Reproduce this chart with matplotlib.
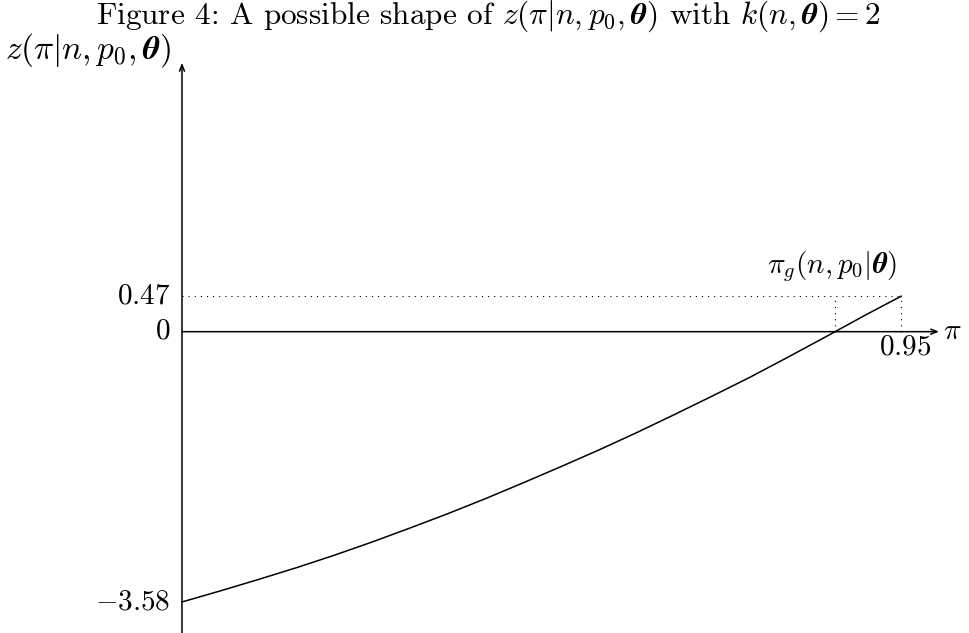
import matplotlib
matplotlib.use("Agg")
import matplotlib.pyplot as plt
import numpy as np

plt.rcParams['font.family'] = ['cmr10', 'DejaVu Serif']
plt.rcParams['mathtext.fontset'] = 'cm'
plt.rcParams['axes.unicode_minus'] = False

# values
pi_vals = [0.0, 0.05, 0.1, 0.15, 0.2, 0.25, 0.3, 0.35, 0.4, 0.45, 0.5,
           0.55, 0.6, 0.65, 0.7, 0.75, 0.8, 0.85, 0.9, 0.95]
z_vals = [-3.58, -3.435, -3.285, -3.13, -2.965, -2.79, -2.605, -2.415, -2.215, -2.005, -1.79,
          -1.57, -1.34, -1.10, -0.855, -0.605, -0.34, -0.07, 0.205, 0.47]
pi_g = 0.8627
y_ticks = [0.47, 0, -3.58]
x_ticks = [0.95]

fs = 21

fig = plt.figure(figsize=(9.69, 6.33), dpi=100)
ax = fig.add_axes([0, 0, 1, 1])
ax.set_xlim(-0.2404, 1.0396)
ax.set_ylim(-3.991, 4.393)
ax.axis('off')

# axes with arrow heads
arr = dict(arrowstyle='->,head_length=0.45,head_width=0.18', lw=1.1, color='black',
           shrinkA=0, shrinkB=0)
ax.annotate('', xy=(1.0, 0), xytext=(0, 0), arrowprops=arr)
ax.annotate('', xy=(0, 3.56), xytext=(0, -4.0), arrowprops=arr)

# curve
ax.plot(pi_vals, z_vals, color='black', lw=1.1)

# dotted guides
dot = dict(color='black', lw=0.8, linestyle=(0, (1, 4.5)))
ax.plot([0, x_ticks[0]], [y_ticks[0], y_ticks[0]], **dot)
ax.plot([x_ticks[0], x_ticks[0]], [0, y_ticks[0]], **dot)
ax.plot([pi_g, pi_g], [0, y_ticks[0]], **dot)

# tick labels
for v in y_ticks:
    lab = '$0$' if v == 0 else '$%.2f$' % v
    ax.annotate(lab, xy=(0, v), xytext=(-8.5, 0), textcoords='offset points',
                ha='right', va='center', fontsize=fs)
for v in x_ticks:
    ax.annotate('$%.2f$' % v, xy=(v, 0), xytext=(3, -11), textcoords='offset points',
                ha='center', va='center', fontsize=fs)

# axis labels
ax.annotate(r'$\pi$', xy=(1.0, 0), xytext=(3, 0), textcoords='offset points',
            ha='left', va='center', fontsize=fs)
ax.annotate(r'$z(\pi|n,p_0,\boldsymbol{\theta})$', xy=(0, 3.56), xytext=(-8, 9),
            textcoords='offset points', ha='right', va='center', fontsize=24)
ax.annotate(r'$\pi_g(n,p_0|\boldsymbol{\theta})$', xy=(pi_g, y_ticks[0]), xytext=(-2, 21),
            textcoords='offset points', ha='center', va='center', fontsize=fs)

fig.text(488 / 969, 1 - 24 / 633,
         r'Figure 4: A possible shape of $z(\pi|n,p_0,\boldsymbol{\theta})$ with $k(n,\boldsymbol{\theta})=2$',
         ha='center', va='baseline', fontsize=22.5)

fig.savefig('out.png', dpi=100)
